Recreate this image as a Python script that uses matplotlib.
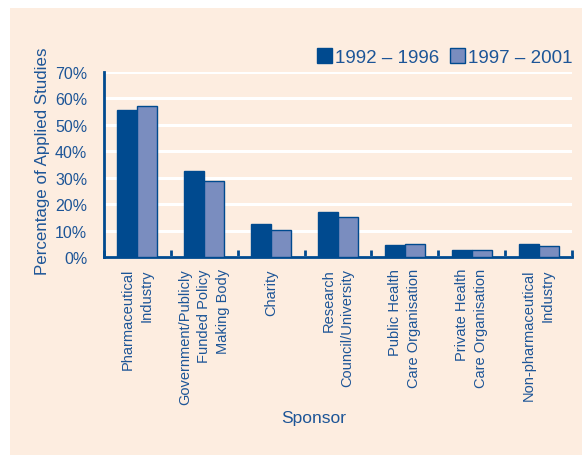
import numpy as np
import matplotlib.pyplot as plt
from matplotlib.patches import Rectangle

sponsors = ["Pharmaceutical\nIndustry", "Government/Publicly\nFunded Policy\nMaking Body",
            "Charity", "Research\nCouncil/University", "Public Health\nCare Organisation",
            "Private Health\nCare Organisation", "Non-pharmaceutical\nIndustry"]
period1 = [55.7, 32.6, 12.6, 17.2, 4.6, 2.8, 4.8]
period2 = [57.0, 28.6, 10.1, 15.1, 5.0, 2.7, 4.3]
series_names = ["1992 \u2013 1996", "1997 \u2013 2001"]

text_col = "#1d5597"
dark = "#004a8f"
light = "#7a8dbf"
bg = "#fdede0"

plt.rcParams['font.family'] = ['Liberation Sans', 'DejaVu Sans']

fig = plt.figure(figsize=(5.82, 4.56), dpi=100)
fig.patch.set_facecolor("white")
# peach panel behind everything, leaving a thin white margin top/left
fig.add_artist(Rectangle((10 / 582, 0), 1, 1 - 9 / 456, transform=fig.transFigure,
                         facecolor=bg, edgecolor="none", zorder=-10))

ax = fig.add_axes([104 / 582, 1 - 258 / 456, 468 / 582, 185 / 456])
ax.set_facecolor(bg)

x = np.arange(len(sponsors))
w = 0.3
ax.bar(x - w / 2, period1, w, color=dark, edgecolor=dark, linewidth=1, label=series_names[0], zorder=3)
ax.bar(x + w / 2, period2, w, color=light, edgecolor=dark, linewidth=1, label=series_names[1], zorder=3)

ax.set_xlim(-0.5, len(sponsors) - 0.5)
ax.set_ylim(0, 70)
ax.set_yticks(range(0, 71, 10))
ax.set_yticklabels([f"{v}%" for v in range(0, 71, 10)], color=text_col, fontsize=11.5)
ax.yaxis.grid(True, color="white", linewidth=2.2, zorder=1)
ax.set_axisbelow(True)

ax.set_xticks(x)
ax.set_xticklabels(sponsors, rotation=90, color=text_col, fontsize=10.5, va="top", ha="center",
                   multialignment="right", linespacing=1.45)
ax.tick_params(axis="x", length=0, pad=8)
ax.set_xticks(np.arange(len(sponsors) + 1) - 0.5, minor=True)
ax.tick_params(axis="x", which="minor", direction="in", length=5, width=2, color=dark)
ax.tick_params(axis="y", length=0, pad=12)

for s in ["top", "right"]:
    ax.spines[s].set_visible(False)
for s in ["left", "bottom"]:
    ax.spines[s].set_color(dark)
    ax.spines[s].set_linewidth(2)

ax.set_ylabel("Percentage of Applied Studies", color=text_col, fontsize=12.2)
ax.yaxis.set_label_coords(-54 / 468, 97 / 185)
ax.set_xlabel("Sponsor", color=text_col, fontsize=12.5)
ax.xaxis.set_label_coords(210 / 468, -153 / 185)

leg = ax.legend(loc="center right", bbox_to_anchor=(1.025, 200 / 185), ncol=2, frameon=False,
                fontsize=13.5, handlelength=0.8, handleheight=0.8, handletextpad=0.15,
                columnspacing=0.6, borderaxespad=0.2)
for t in leg.get_texts():
    t.set_color(text_col)

fig.savefig("out.png", dpi=100, facecolor=fig.get_facecolor())
